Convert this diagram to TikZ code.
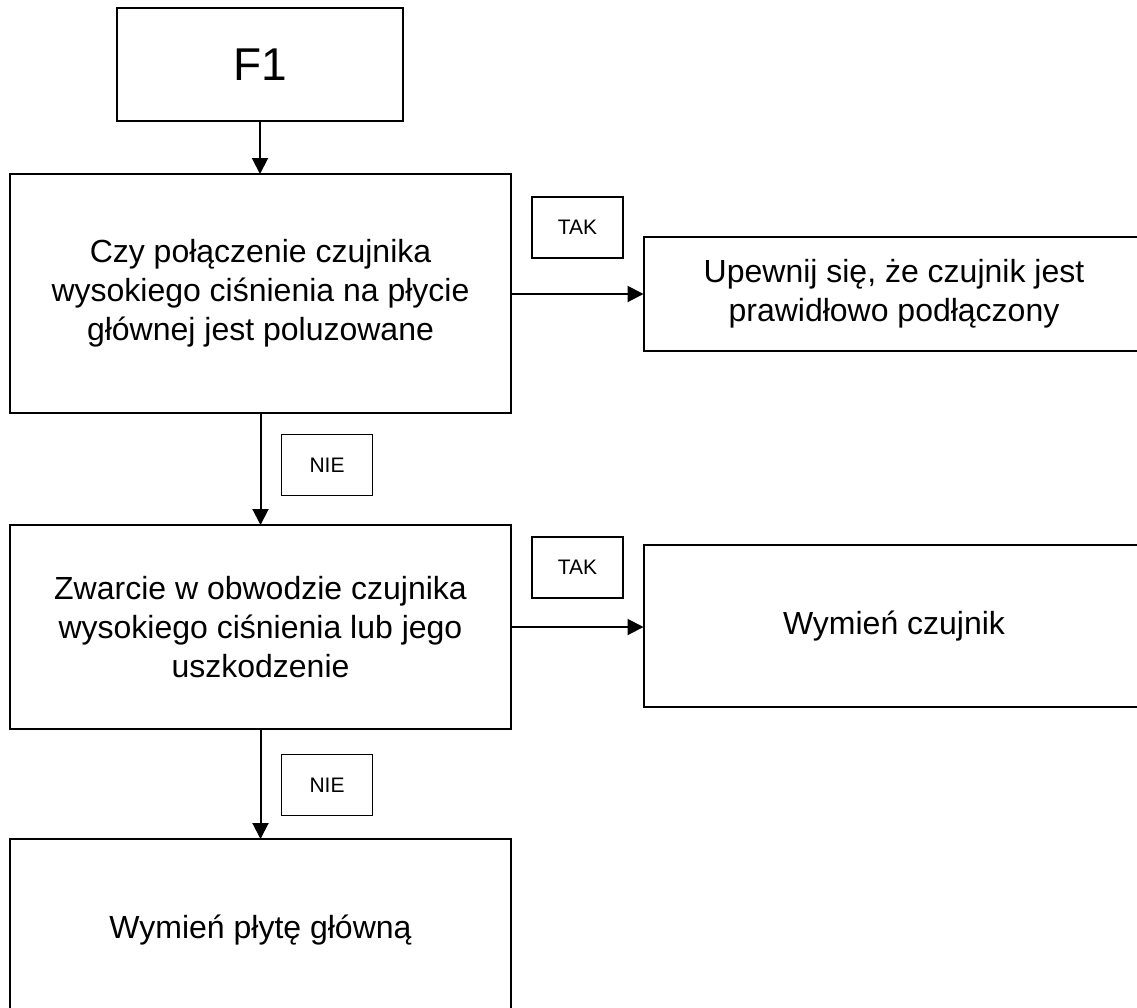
\documentclass[tikz,border=0pt]{standalone}
\usepackage{fontspec}
\setmainfont{Liberation Sans}
\usetikzlibrary{arrows.meta,positioning}

\begin{document}
\begin{tikzpicture}[x=1pt,y=-1pt]
    \tikzset{box/.style={draw,line width=2pt,inner sep=0pt,outer sep=0pt,minimum width=501pt,align=center,font=\fontsize{32}{39}\selectfont},
      tag/.style={draw,line width=1.4pt,inner sep=0pt,outer sep=0pt,minimum width=91pt,minimum height=61pt,font=\fontsize{21}{25}\selectfont},
      arr/.style={-{Triangle[length=16pt,width=16pt]},line width=2pt}}
    \clip (0,0) rectangle (1137,1007);
    \node[box,minimum width=286pt,minimum height=113pt,font=\fontsize{46}{52}\selectfont] (f1) at (260,64.5) {F1};
    \node[box,minimum height=239pt] (q1) at (260.5,293.5) {Czy połączenie czujnika\\wysokiego ciśnienia na płycie\\głównej jest poluzowane};
    \node[box,minimum height=114pt] (a1) at (894,294) {Upewnij się, że czujnik jest\\prawidłowo podłączony};
    \node[box,minimum height=204pt] (q2) at (260.5,627) {Zwarcie w obwodzie czujnika\\wysokiego ciśnienia lub jego\\uszkodzenie};
    \node[box,minimum height=162pt] (a2) at (894,626) {Wymień czujnik};
    \node[box,minimum height=182pt] (a3) at (260.5,930) {Wymień płytę główną};
    \node[tag] (t1) at (577.5,227.5) {TAK};
    \node[tag] (n1) at (327,465) {NIE};
    \node[tag] (t2) at (577.5,567.5) {TAK};
    \node[tag] (n2) at (327,785) {NIE};
    \draw[arr] (f1.south) -- (f1.south |- q1.north);
    \draw[arr] (q1.east |- a1.west) -- (a1.west);
    \draw[arr] (q1.south) -- (q2.north);
    \draw[arr] (q2.east) -- (q2.east -| a2.west);
    \draw[arr] (q2.south) -- (a3.north);
  \end{tikzpicture}
\end{document}
